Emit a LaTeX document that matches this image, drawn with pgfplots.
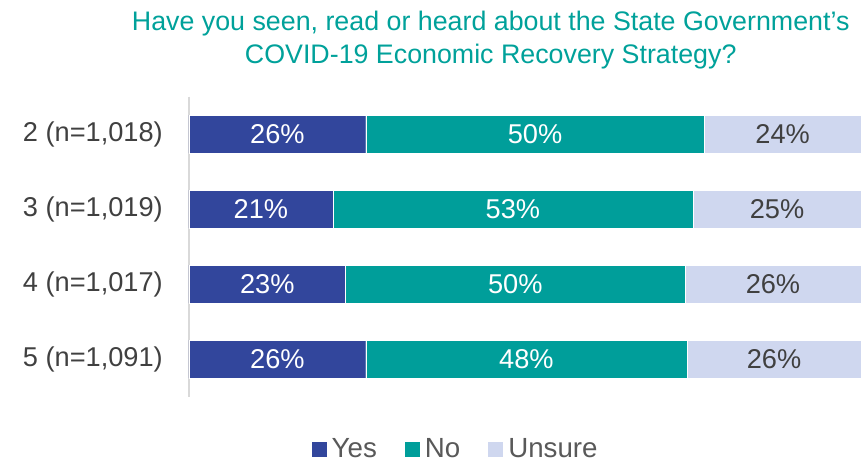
\documentclass[border=0pt]{standalone}
\usepackage{pgfplots}
\pgfplotsset{compat=1.18}
\usepackage{pgfplotstable}
\usepackage{fontspec}
\setmainfont{Liberation Sans}
\definecolor{cyes}{RGB}{50,70,156}
\definecolor{cno}{RGB}{0,158,154}
\definecolor{cuns}{RGB}{207,215,239}
\definecolor{ctitle}{RGB}{0,161,154}
\definecolor{ctext}{RGB}{64,64,64}
\definecolor{cleg}{RGB}{89,89,89}
\pgfplotstableread{
y v lab
1 26.3 26
2 21.4 21
3 23.3 23
4 26.3 26
}\tyes
\pgfplotstableread{
y v lab
1 50.4 50
2 53.6 53
3 50.5 50
4 47.8 48
}\tno
\pgfplotstableread{
y v lab
1 23.3 24
2 25.0 25
3 26.2 26
4 25.9 26
}\tuns
\begin{document}
\begin{tikzpicture}
\begin{axis}[
  name=ax, at={(0,0)}, anchor=south west,
  scale only axis, width=672bp, height=300bp,
  xbar stacked, bar width=38bp,
  xmin=0, xmax=100, ymin=0.5, ymax=4.5, y dir=reverse,
  axis x line=none, axis y line*=left,
  y axis line style={draw=black!15, line width=1.5bp, -},
  ytick={1,2,3,4},
  yticklabels={{2 (n=1,018)},{3 (n=1,019)},{4 (n=1,017)},{5 (n=1,091)}},
  major tick length=0pt, tick style={draw=none},
  yticklabel style={font=\fontsize{27.3}{32}\selectfont, text=ctext, inner sep=0pt, xshift=-26bp},
  nodes near coords={\pgfplotspointmeta\%},
  point meta=explicit symbolic,
  every node near coord/.append style={anchor=center, inner sep=0pt, font=\fontsize{27.3}{32}\selectfont},
  title={Have you seen, read or heard about the State Government’s\\COVID-19 Economic Recovery Strategy?},
  title style={at={(0.449,1.167)}, anchor=center, align=center, font=\fontsize{26.9}{33}\selectfont, text=ctitle},
  legend style={at={(0.399,-0.175)}, anchor=center, draw=none, legend columns=-1,
    font=\fontsize{27.8}{32}\selectfont, text=cleg,
    /tikz/every even column/.append style={column sep=23bp},
    /tikz/every odd column/.append style={column sep=0bp},
    nodes={inner xsep=5bp}},
  legend image code/.code={\fill[#1,draw=none] (0bp,-7.5bp) rectangle (15bp,7.5bp);},
]
\addplot[fill=cyes, draw=white, line width=0.4bp, every node near coord/.append style={text=white}] table[x=v, y=y, meta=lab] {\tyes};
\addlegendentry{Yes}
\addplot[fill=cno, draw=white, line width=0.4bp, every node near coord/.append style={text=white}] table[x=v, y=y, meta=lab] {\tno};
\addlegendentry{No}
\addplot[fill=cuns, draw=white, line width=0.4bp, every node near coord/.append style={text=ctext}] table[x=v, y=y, meta=lab] {\tuns};
\addlegendentry{Unsure}
\end{axis}
\pgfresetboundingbox
\path ([xshift=-189bp,yshift=-65.5bp]ax.south west) rectangle ([yshift=96.5bp]ax.north east);
\end{tikzpicture}
\end{document}
